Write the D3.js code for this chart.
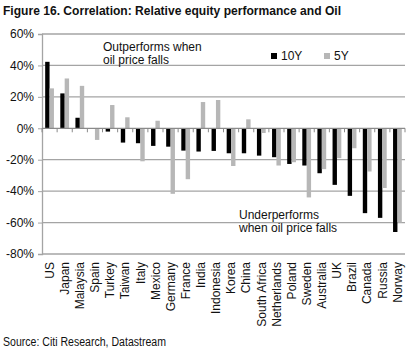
<!DOCTYPE html>
<html>
<head>
<meta charset="utf-8">
<script src="https://cdn.jsdelivr.net/npm/d3@7"></script>
<style>
  body { margin: 0; background: #fff; }
  text { font-family: "Liberation Sans", Arial, sans-serif; fill: #111; }
</style>
</head>
<body>
<div id="chart"></div>
<script>
// Chart constants
const WIDTH = 407;
const HEIGHT = 349;
const COLOUR_10Y = "#000";
const COLOUR_5Y = "#b7b7b7";
const COLOUR_GRID = "#a4a4a4";

// Data (% relative performance)
const countries = ["US", "Japan", "Malaysia", "Spain", "Turkey", "Taiwan", "Italy", "Mexico",
  "Germany", "France", "India", "Indonesia", "Korea", "China", "South Africa", "Netherlands",
  "Poland", "Sweden", "Australia", "UK", "Brazil", "Canada", "Russia", "Norway"];
const tenY = [42.3, 22.2, 6.7, -0.3, -2.1, -9.1, -9.5, -11.2, -11.7, -14.2, -14.8, -14.4,
  -15.9, -15.9, -17.4, -18.4, -22.7, -23.7, -28.6, -36, -43, -54, -57, -66];
const fiveY = [25.4, 31.7, 27, -7.4, 14.8, 7, -21, 4.8, -41.7, -32.4, 16.7, 18,
  -24, 5.7, -3, -23.7, -21.6, -44, -26, -19, -12.7, -27.5, -38, -60];
const seriesNames = ["10Y", "5Y"];
const yTicks = [60, 40, 20, 0, -20, -40, -60, -80];

// plot area
const plot = {left: 42, right: 405, top: 34, bottom: 254};

let svg = d3.select("#chart")
            .append("svg")
            .attr("width", WIDTH)
            .attr("height", HEIGHT);

let x0 = d3.scaleBand()
            .domain(countries)
            .range([plot.left, plot.right])
            .paddingInner(0.42)
            .paddingOuter(0.21);

let x1 = d3.scaleBand()
            .domain(seriesNames)
            .range([0, x0.bandwidth()]);

let y = d3.scaleLinear()
            .domain([-80, 60])
            .range([plot.bottom, plot.top]);

// Gridlines
svg.append("g")
    .selectAll("line")
    .data(yTicks.filter(d => d !== 0))
    .join("line")
    .attr("x1", plot.left)
    .attr("x2", plot.right)
    .attr("y1", d => y(d))
    .attr("y2", d => y(d))
    .attr("stroke", COLOUR_GRID)
    .attr("stroke-width", 1.3);

// Left axis
let yAxis = d3.axisLeft(y)
              .tickValues(yTicks)
              .tickSize(4)
              .tickPadding(4)
              .tickFormat(d => d + "%");

let yAxisG = svg.append("g")
    .attr("transform", `translate(${plot.left},0)`)
    .call(yAxis);
yAxisG.select(".domain").attr("stroke", COLOUR_GRID).attr("stroke-width", 1.3);
yAxisG.selectAll(".tick line").attr("stroke", COLOUR_GRID);
yAxisG.selectAll(".tick text")
    .style("font-size", "12px")
    .attr("fill", "#111");

// Bars
let groups = svg.append("g")
    .selectAll("g")
    .data(countries.map((c, i) => ({country: c, values: [tenY[i], fiveY[i]]})))
    .join("g")
    .attr("transform", d => `translate(${x0(d.country)},0)`);

groups.selectAll("rect")
    .data(d => d.values.map((v, i) => ({key: seriesNames[i], value: v})))
    .join("rect")
    .attr("x", d => x1(d.key))
    .attr("width", x1.bandwidth())
    .attr("y", d => y(Math.max(0, d.value)))
    .attr("height", d => Math.abs(y(d.value) - y(0)))
    .attr("fill", d => d.key === "10Y" ? COLOUR_10Y : COLOUR_5Y);

// Zero axis with category ticks
let step = x0.step();
svg.append("line")
    .attr("x1", plot.left)
    .attr("x2", plot.right)
    .attr("y1", y(0))
    .attr("y2", y(0))
    .attr("stroke", "#8a8a8a")
    .attr("stroke-width", 1.2);

svg.append("g")
    .selectAll("line")
    .data(d3.range(countries.length + 1))
    .join("line")
    .attr("x1", i => plot.left + i * step)
    .attr("x2", i => plot.left + i * step)
    .attr("y1", y(0))
    .attr("y2", y(0) + 4)
    .attr("stroke", "#8a8a8a");

// Country labels, rotated
svg.append("g")
    .selectAll("text")
    .data(countries)
    .join("text")
    .attr("transform", d => `translate(${x0(d) + x0.bandwidth() / 2},262) rotate(-90)`)
    .attr("text-anchor", "end")
    .attr("dy", "0.35em")
    .style("font-size", "12px")
    .text(d => d);

// Title
svg.append("text")
    .attr("x", 3)
    .attr("y", 14.5)
    .attr("textLength", 338)
    .attr("lengthAdjust", "spacingAndGlyphs")
    .style("font-size", "13px")
    .style("font-weight", "bold")
    .text("Figure 16. Correlation: Relative equity performance and Oil");

// Legend
let legend = svg.append("g");
[{name: "10Y", x: 271, colour: COLOUR_10Y}, {name: "5Y", x: 324, colour: COLOUR_5Y}].forEach(l => {
    legend.append("rect")
        .attr("x", l.x)
        .attr("y", 53)
        .attr("width", 6)
        .attr("height", 6)
        .attr("fill", l.colour);
    legend.append("text")
        .attr("x", l.x + 10)
        .attr("y", 60)
        .style("font-size", "12px")
        .text(l.name);
});

// Annotations
function note(lines, x, yy) {
    let t = svg.append("text").style("font-size", "12px");
    lines.forEach((s, i) => {
        t.append("tspan").attr("x", x).attr("y", yy + i * 13.2).text(s);
    });
}
note(["Outperforms when", "oil price falls"], 103, 51);
note(["Underperforms", "when oil price falls"], 239, 218.5);

// Source
svg.append("text")
    .attr("x", 3)
    .attr("y", 345.5)
    .attr("textLength", 163)
    .attr("lengthAdjust", "spacingAndGlyphs")
    .style("font-size", "12px")
    .text("Source: Citi Research, Datastream");
</script>
</body>
</html>
